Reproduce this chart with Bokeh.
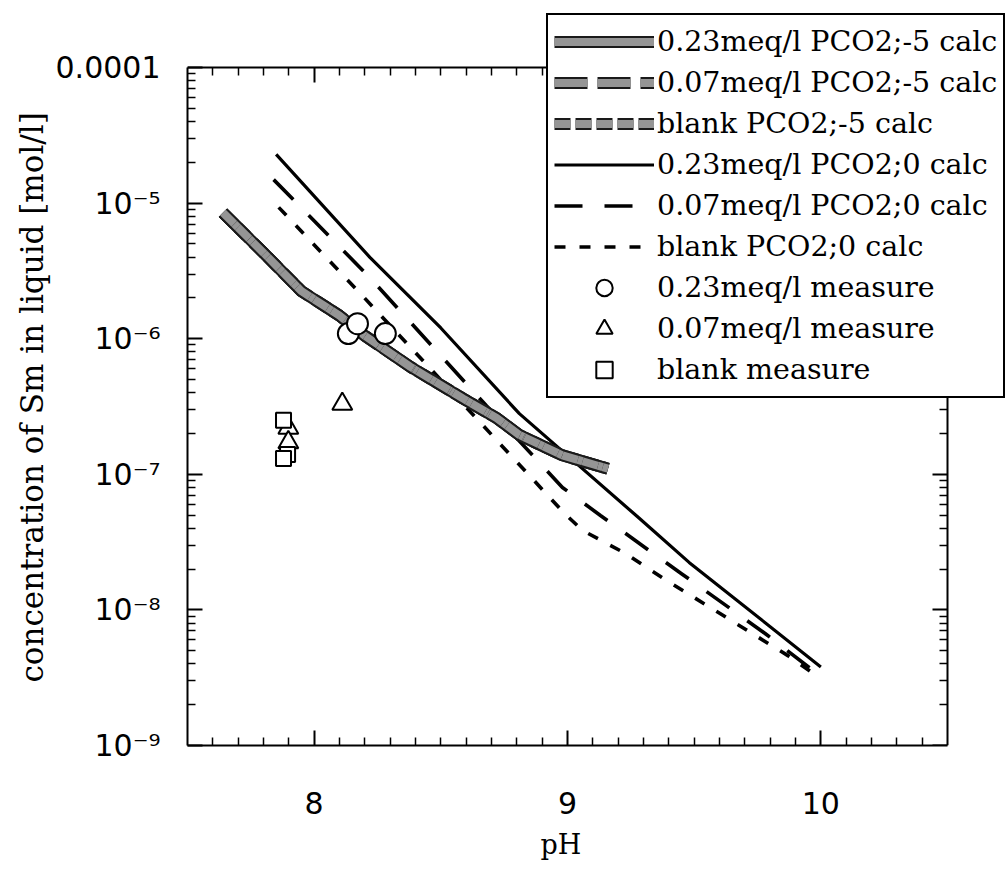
import numpy as np
from bokeh.plotting import figure
from bokeh.models import (Legend, LegendItem, LinearAxis, LogAxis, FixedTicker,
                          Range1d, CustomJSTickFormatter, Title)
from bokeh.embed import file_html
from bokeh.resources import INLINE

# ---------------- data ----------------
# PCO2 = -5 calculations (the three curves coincide)
ph_023_m5 = [7.64, 7.80, 7.95, 8.10, 8.20, 8.38, 8.59, 8.72, 8.81, 8.98, 9.16]
c_023_m5 = [8.5e-6, 4.3e-6, 2.24e-6, 1.48e-6, 1.05e-6, 6.2e-7, 3.6e-7, 2.6e-7, 1.95e-7, 1.38e-7, 1.1e-7]
ph_007_m5 = [7.64, 7.80, 7.95, 8.10, 8.20, 8.38, 8.59, 8.72, 8.81, 8.98, 9.16]
c_007_m5 = [8.5e-6, 4.3e-6, 2.24e-6, 1.48e-6, 1.05e-6, 6.2e-7, 3.6e-7, 2.6e-7, 1.95e-7, 1.38e-7, 1.1e-7]
ph_blank_m5 = [7.64, 7.80, 7.95, 8.10, 8.20, 8.38, 8.59, 8.72, 8.81, 8.98, 9.16]
c_blank_m5 = [8.5e-6, 4.3e-6, 2.24e-6, 1.48e-6, 1.05e-6, 6.2e-7, 3.6e-7, 2.6e-7, 1.95e-7, 1.38e-7, 1.1e-7]

# PCO2 = 0 calculations
ph_023_0 = [7.85, 8.22, 8.50, 8.81, 9.28, 9.48, 10.0]
c_023_0 = [2.29e-5, 3.98e-6, 1.2e-6, 2.8e-7, 4.8e-8, 2.24e-8, 3.8e-9]
ph_007_0 = [7.84, 8.22, 8.68, 8.90, 8.98, 9.13, 9.45, 9.78, 9.98]
c_007_0 = [1.49e-5, 2.82e-6, 3.2e-7, 1.16e-7, 8.0e-8, 4.97e-8, 1.85e-8, 6.7e-9, 3.45e-9]
ph_blank_0 = [7.86, 8.19, 8.49, 8.99, 9.06, 9.23, 9.39, 9.55, 9.87, 9.98]
c_blank_0 = [9.3e-6, 2.08e-6, 5.2e-7, 5.1e-8, 3.85e-8, 2.6e-8, 1.65e-8, 1.08e-8, 4.6e-9, 3.3e-9]

# measurements
ph_023_meas = [8.135, 8.171, 8.281]
c_023_meas = [1.09e-6, 1.29e-6, 1.09e-6]
ph_007_meas = [8.111, 7.898, 7.898]
c_007_meas = [3.3e-7, 2.2e-7, 1.72e-7]
ph_blank_meas = [7.879, 7.895, 7.879]
c_blank_meas = [2.5e-7, 1.40e-7, 1.31e-7]

labels = ["0.23meq/l PCO2;-5 calc", "0.07meq/l PCO2;-5 calc", "blank PCO2;-5 calc",
          "0.23meq/l PCO2;0 calc", "0.07meq/l PCO2;0 calc", "blank PCO2;0 calc",
          "0.23meq/l measure", "0.07meq/l measure", "blank measure"]

x_lo, x_hi = 7.5, 10.5
y_lo, y_hi = 1e-9, 1e-4
x_major = [8, 9, 10]
x_minor = [round(v, 1) for v in np.arange(7.6, 10.45, 0.1) if abs(v - round(v)) > 1e-6]
y_major = [1e-9, 1e-8, 1e-7, 1e-6, 1e-5, 1e-4]
y_minor = [k * 10.0 ** e for e in range(-9, -4) for k in range(2, 10)]
y_tick_text = {1e-4: "0.0001", 1e-5: "10\u207b\u2075", 1e-6: "10\u207b\u2076",
               1e-7: "10\u207b\u2077", 1e-8: "10\u207b\u2078", 1e-9: "10\u207b\u2079"}

# ---------------- layout geometry ----------------
# the drawing frame is extended up/right so the legend (which overlaps the
# axes box in the original) is not clipped; the axes box is drawn with
# fixed-location axes at the real limits.
W, H = 1006, 869
left_px, right_px, top_px, bottom_px = 187, 947, 67, 745
ext_right, ext_top = 1006, 10
px_per_x = (right_px - left_px) / (x_hi - x_lo)
px_per_dec = (bottom_px - top_px) / (np.log10(y_hi) - np.log10(y_lo))
x_end = x_hi + (ext_right - right_px) / px_per_x
y_end = 10 ** (np.log10(y_hi) + (top_px - ext_top) / px_per_dec)

p = figure(width=W, height=H, x_range=Range1d(x_lo, x_end), y_range=Range1d(y_lo, y_end),
           y_axis_type="log", output_backend="svg", toolbar_location=None,
           min_border_left=left_px, min_border_right=W - ext_right,
           min_border_top=ext_top, min_border_bottom=H - bottom_px)
p.xgrid.visible = False
p.ygrid.visible = False
p.outline_line_color = None
p.background_fill_color = "white"
p.border_fill_color = "white"

blank_fmt = CustomJSTickFormatter(code="return ''")
p.add_layout(LinearAxis(fixed_location=y_hi, formatter=blank_fmt, major_label_standoff=0), "above")
p.add_layout(LogAxis(fixed_location=x_hi, formatter=blank_fmt, major_label_standoff=0), "right")

def style_axis(ax):
    ax.axis_line_color = "black"
    ax.axis_line_width = 2
    ax.major_tick_in = 15
    ax.major_tick_out = 0
    ax.minor_tick_in = 8
    ax.minor_tick_out = 0
    ax.major_tick_line_width = 2
    ax.minor_tick_line_width = 1.5
    ax.major_tick_line_color = "black"
    ax.minor_tick_line_color = "black"
    ax.major_label_text_font = "DejaVu Sans"
    ax.major_label_text_font_size = "30px"
    ax.major_label_text_color = "black"

for ax in p.xaxis:
    style_axis(ax)
    ax.ticker = FixedTicker(ticks=x_major, minor_ticks=x_minor)
    ax.bounds = (x_lo, x_hi)
for ax in p.yaxis:
    style_axis(ax)
    ax.ticker = FixedTicker(ticks=y_major, minor_ticks=y_minor)
    ax.bounds = (y_lo, y_hi)

bottom = p.below[0]
left = p.left[0]
bottom.major_label_standoff = 46
left.major_label_standoff = 27
left.major_label_overrides = y_tick_text

# axis titles (side titles, aligned to the start of the frame and shifted)
y_title = Title(text="concentration of Sm in liquid [mol/l]", align="left",
                text_font="DejaVu Serif", text_font_size="31px", text_font_style="normal",
                text_color="black", standoff=6, offset=bottom_px - 682)
x_title = Title(text="pH", align="left", text_font="DejaVu Serif", text_font_size="27px",
                text_font_style="normal", text_color="black", standoff=20,
                offset=540 - left_px)
p.add_layout(y_title, "left")
p.add_layout(x_title, "below")

# ---------------- glyphs ----------------
r0 = p.line(ph_023_0, c_023_0, line_color="black", line_width=3.2)
r1 = p.line(ph_007_0, c_007_0, line_color="black", line_width=3.6, line_dash="28 22")
r2 = p.line(ph_blank_0, c_blank_0, line_color="black", line_width=3.6, line_dash="11 14")

band_dark, band_grey = "#1a1a1a", "#959595"
g0a = p.line(ph_023_m5, c_023_m5, line_color=band_dark, line_width=12, line_join="round")
g0b = p.line(ph_023_m5, c_023_m5, line_color=band_grey, line_width=8, line_join="round")
g1a = p.line(ph_007_m5, c_007_m5, line_color=band_dark, line_width=12, line_dash="33 10")
g1b = p.line(ph_007_m5, c_007_m5, line_color=band_grey, line_width=8, line_dash="33 10")
g2a = p.line(ph_blank_m5, c_blank_m5, line_color=band_dark, line_width=12, line_dash="16 5")
g2b = p.line(ph_blank_m5, c_blank_m5, line_color=band_grey, line_width=8, line_dash="16 5")

m1 = p.scatter(ph_007_meas, c_007_meas, marker="triangle", size=20, line_color="black",
               line_width=2, fill_color="white")
m2 = p.scatter(ph_blank_meas, c_blank_meas, marker="square", size=15, line_color="black",
               line_width=2, fill_color="white")
m0 = p.scatter(ph_023_meas, c_023_meas, marker="circle", size=21, line_color="black",
               line_width=2, fill_color="white")

items = [
    LegendItem(label=labels[0], renderers=[g0a, g0b]),
    LegendItem(label=labels[1], renderers=[g1a, g1b]),
    LegendItem(label=labels[2], renderers=[g2a, g2b]),
    LegendItem(label=labels[3], renderers=[r0]),
    LegendItem(label=labels[4], renderers=[r1]),
    LegendItem(label=labels[5], renderers=[r2]),
    LegendItem(label=labels[6], renderers=[m0]),
    LegendItem(label=labels[7], renderers=[m1]),
    LegendItem(label=labels[8], renderers=[m2]),
]
legend = Legend(items=items, location=(546 - left_px, bottom_px - 398))
legend.glyph_width = 100
legend.glyph_height = 41
legend.label_height = 41
legend.spacing = 0
legend.padding = 6
legend.margin = 0
legend.label_standoff = 3
legend.label_text_font = "DejaVu Serif"
legend.label_text_font_size = "28.5px"
legend.label_text_color = "black"
legend.border_line_color = "black"
legend.border_line_alpha = 1.0
legend.border_line_width = 2
legend.background_fill_color = "white"
legend.background_fill_alpha = 1.0
p.add_layout(legend)

open("out.html", "w").write(file_html(p, INLINE))
